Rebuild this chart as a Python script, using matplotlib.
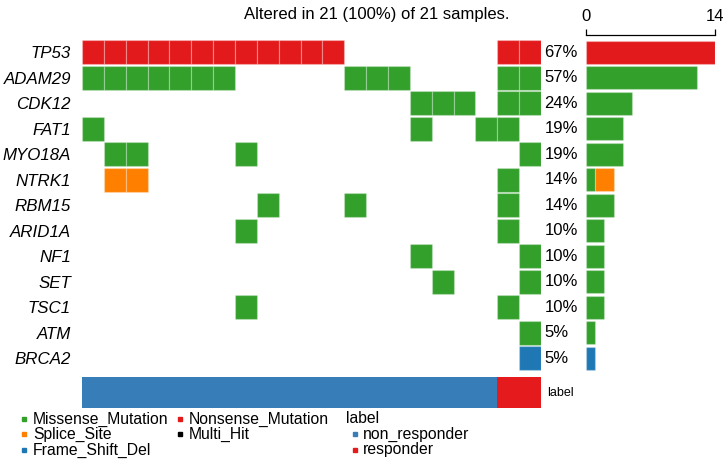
import numpy as np
import matplotlib.pyplot as plt
from matplotlib.patches import Rectangle

plt.rcParams['font.family'] = ['Liberation Sans', 'DejaVu Sans']

genes = ["TP53", "ADAM29", "CDK12", "FAT1", "MYO18A", "NTRK1", "RBM15",
         "ARID1A", "NF1", "SET", "TSC1", "ATM", "BRCA2"]

# one character per sample (21 samples):
# M = Missense_Mutation, N = Nonsense_Mutation, S = Splice_Site, F = Frame_Shift_Del, . = none
mutations = [
    "NNNNNNNNNNNN.......NN",  # TP53
    "MMMMMMM.....MMM....MM",  # ADAM29
    "...............MMM.MM",  # CDK12
    "M..............M..MM.",  # FAT1
    ".MM....M............M",  # MYO18A
    ".SS................M.",  # NTRK1
    "........M...M......M.",  # RBM15
    ".......M...........M.",  # ARID1A
    "...............M....M",  # NF1
    "................M...M",  # SET
    ".......M...........M.",  # TSC1
    "....................M",  # ATM
    "....................F",  # BRCA2
]

sample_labels = ["non_responder"] * 19 + ["responder"] * 2

variant_codes = ["M", "S", "F", "N", "H"]
variant_names = {"M": "Missense_Mutation", "N": "Nonsense_Mutation", "S": "Splice_Site",
                 "H": "Multi_Hit", "F": "Frame_Shift_Del"}
variant_colors = {"M": "#33A02C", "N": "#E31A1C", "S": "#FF7F00",
                  "H": "#000000", "F": "#1F78B4"}
label_colors = {"non_responder": "#377EB8", "responder": "#E41A1C"}

n_samples = len(sample_labels)
n_genes = len(genes)

W, H = 726, 459
fig = plt.figure(figsize=(W / 100, H / 100), dpi=100)


def px_axes(x0, y0, x1, y1):
    # axes from pixel box (top-left origin)
    return fig.add_axes([x0 / W, 1 - y1 / H, (x1 - x0) / W, (y1 - y0) / H])


cell_edge = (1, 1, 1, 0.25)

# ---- mutation matrix
ax = px_axes(82, 39.5, 541, 371)
for gi, row in enumerate(mutations):
    for si, code in enumerate(row):
        if code == ".":
            continue
        ax.add_patch(Rectangle((si, gi + 0.03), 1, 0.94, facecolor=variant_colors[code],
                               edgecolor=cell_edge, linewidth=0.9))
ax.set_xlim(0, n_samples)
ax.set_ylim(n_genes, 0)
ax.set_yticks(np.arange(n_genes) + 0.5)
ax.set_yticklabels(genes, fontsize=12.2, style='italic')
ax.tick_params(axis='y', length=0, pad=8)
ax.set_xticks([])
for s in ax.spines.values():
    s.set_visible(False)

counts = [sum(c != "." for c in row) for row in mutations]
for gi, c in enumerate(counts):
    ax.text(n_samples + 0.15, gi + 0.5, f"{round(c / n_samples * 100)}%",
            ha='left', va='center', fontsize=12, clip_on=False)

altered = sum(any(row[i] != "." for row in mutations) for i in range(n_samples))
fig.text(377 / W, 1 - 15 / H,
         f"Altered in {altered} ({round(altered / n_samples * 100)}%) of {n_samples} samples.",
         ha='center', va='center', fontsize=12)

# ---- side bar chart
bx = px_axes(586, 39.5, 715, 371)
for gi, row in enumerate(mutations):
    left = 0
    for code in variant_codes:
        n = row.count(code)
        if n:
            bx.barh(gi + 0.5, n, left=left, height=0.92, color=variant_colors[code],
                    edgecolor=cell_edge, linewidth=0.9)
            left += n
bx.set_xlim(0, max(counts))
bx.set_ylim(n_genes, 0)
bx.set_yticks([])
bx.xaxis.tick_top()
bx.set_xticks([0, max(counts)])
bx.tick_params(axis='x', labelsize=12, length=4.5, width=0.9, pad=3.5)
for side in ["bottom", "left", "right"]:
    bx.spines[side].set_visible(False)
bx.spines["top"].set_position(('outward', 3.5))
bx.spines["top"].set_linewidth(0.9)

# ---- label annotation bar
lx = px_axes(82, 377, 541, 408)
for si, lab in enumerate(sample_labels):
    lx.add_patch(Rectangle((si, 0), 1, 1, facecolor=label_colors[lab], edgecolor='none'))
lx.set_xlim(0, n_samples)
lx.set_ylim(0, 1)
lx.axis('off')
lx.text(n_samples + 0.3, 0.5, "label", ha='left', va='center', fontsize=9)

# ---- legend
gx = px_axes(0, 410, W, H)
gx.set_xlim(0, W)
gx.set_ylim(H, 410)
gx.axis('off')
legend_cols = [(24, ["M", "S", "F"]), (180, ["N", "H"])]
rows_y = [419, 434, 450]
for x0, codes in legend_cols:
    for yi, code in enumerate(codes):
        gx.plot(x0, rows_y[yi], marker='s', markersize=3.5, color=variant_colors[code],
                linestyle='none')
        gx.text(x0 + 9, rows_y[yi], variant_names[code], ha='left', va='center', fontsize=11.3)
gx.text(346, rows_y[0], "label", ha='left', va='center', fontsize=11.3)
for yi, lab in enumerate(label_colors):
    gx.plot(355, rows_y[yi + 1], marker='s', markersize=3.5, color=label_colors[lab],
            linestyle='none')
    gx.text(363, rows_y[yi + 1], lab, ha='left', va='center', fontsize=11.3)

fig.savefig("out.png", dpi=100)
